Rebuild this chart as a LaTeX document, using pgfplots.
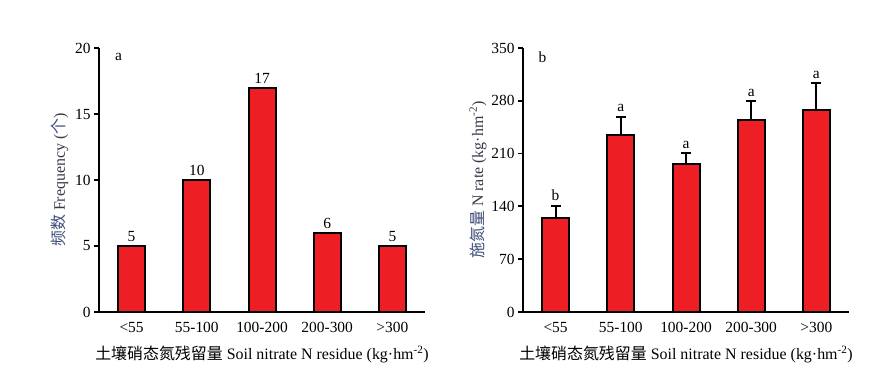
\documentclass[border=0pt]{standalone}
\usepackage{fontspec}
\setmainfont{Liberation Serif}
\newfontfamily\cjk{Noto Sans CJK SC}
\usepackage{pgfplots}
\pgfplotsset{compat=1.18}
\definecolor{barred}{RGB}{237,31,36}
\definecolor{labblue}{RGB}{62,78,120}
\definecolor{labgray}{RGB}{55,58,70}
\pgfplotstableread{
x y lab
0 5 5
1 10 10
2 17 17
3 6 6
4 5 5
}\freqdata
\pgfplotstableread{
x y err top lab
0 125 16 141 b
1 235 24 259 a
2 196 15 211 a
3 254 26 280 a
4 268 35 303 a
}\ratedata
\begin{document}
\begin{tikzpicture}
\useasboundingbox (0bp,0bp) rectangle (884bp,376bp);
\pgfplotsset{
  mystyle/.style={
    scale only axis, width=326bp, height=264bp, anchor=south west,
    axis x line*=bottom, axis y line*=left,
    axis line style={line width=2bp, black},
    xmin=-0.5, xmax=4.5, ymin=0,
    xtick={0,1,2,3,4},
    xticklabels={<55,55-100,100-200,200-300,>300},
    x tick style={draw=none},
    y tick style={line width=1.8bp, black},
    tick align=outside, major tick length=5bp,
    tick label style={font=\fontsize{15.5}{15.5}\selectfont, black},
    /pgf/number format/assume math mode=true,
    xticklabel style={yshift=-2bp},
    label style={font=\fontsize{16}{16}\selectfont},
    xlabel={{\cjk 土壤硝态氮残留量} Soil nitrate N residue (kg·hm\textsuperscript{-2})},
    xlabel style={yshift=-6bp},
    clip=false,
  },
  mybar/.style={ybar, bar width=27bp, fill=barred, draw=black, line width=2bp},
}
\begin{axis}[mystyle, at={(99bp,64bp)}, ymax=20, ytick={0,5,10,15,20},
  ylabel={{\color{labblue}\cjk 频数} {\color{labgray}Frequency (}{\color{labblue}\cjk 个}{\color{labgray})}},
  ylabel style={yshift=0bp}]
  \addplot[mybar, nodes near coords, point meta=explicit symbolic,
    nodes near coords style={font=\fontsize{15.5}{15.5}\selectfont, black, yshift=0bp}]
    table[x=x, y=y, meta=lab] {\freqdata};
  \node[font=\fontsize{15.5}{15.5}\selectfont] at (rel axis cs:0.06,0.966) {a};
\end{axis}
\begin{axis}[mystyle, at={(523bp,64bp)}, ymax=350, ytick={0,70,140,210,280,350},
  ylabel={{\color{labblue}\cjk 施氮量} {\color{labgray}N rate (kg·hm\textsuperscript{-2})}},
  ylabel style={yshift=-2bp}]
  \addplot[mybar] table[x=x, y=y] {\ratedata};
  \addplot[draw=none, mark=none,
    error bars/.cd, y dir=plus, y explicit,
    error bar style={line width=2bp, black, solid},
    error mark=-, error mark options={rotate=90, mark size=5bp, line width=2bp, black}]
    table[x=x, y=y, y error=err] {\ratedata};
  \addplot[only marks, mark=none, nodes near coords, point meta=explicit symbolic,
    nodes near coords style={font=\fontsize{15.5}{15.5}\selectfont, black, anchor=south, yshift=1bp}]
    table[x=x, y=top, meta=lab] {\ratedata};
  \node[font=\fontsize{15.5}{15.5}\selectfont] at (rel axis cs:0.06,0.966) {b};
\end{axis}
\end{tikzpicture}
\end{document}
